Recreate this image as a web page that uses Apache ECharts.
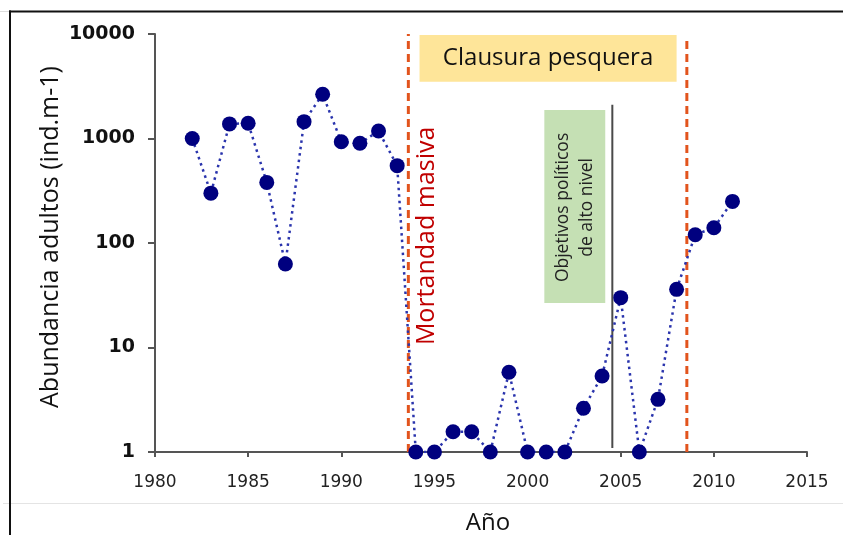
<!DOCTYPE html>
<html><head><meta charset="utf-8">
<script src="https://cdn.jsdelivr.net/npm/echarts@6/dist/echarts.min.js"></script>
<style>html,body{margin:0;padding:0;background:#fff}#c{width:843px;height:535px}</style>
</head><body><div id="c"></div>
<script>
// ---- data ----
const years = [1982,1983,1984,1985,1986,1987,1988,1989,1990,1991,1992,1993,1994,1995,1996,1997,1998,1999,2000,2001,2002,2003,2004,2005,2006,2007,2008,2009,2010,2011];
const abundance = [1000,300,1380,1400,380,63,1450,2650,930,900,1180,550,1,1,1.56,1.56,1,5.8,1,1,1,2.62,5.34,30,1,3.19,36,120,140,250];
const xTicks = [1980,1985,1990,1995,2000,2005,2010,2015];
const yTicks = [1,10,100,1000,10000];

// annotation positions in data units (year, abundance)
const mortalityYear = 1993.6;
const closureEndYear = 2008.55;
const closureLineTop = [10000, 8950];
const policyYear = 2004.55;
const policyLineRange = [1.09, 2100];
const closureBoxX = [1994.2, 2008.0];
const closureBoxY = [3500, 9800];
const policyBoxX = [2000.9, 2004.17];
const policyBoxY = [26.7, 1875];
const mortalityLabelPos = [1994.62, 117];

const xTitle = 'Año';
const yTitle = 'Abundancia adultos (ind.m-1)';
const closureText = 'Clausura pesquera';
const policyText = 'Objetivos políticos\nde alto nivel';
const mortalityText = 'Mortandad masiva';

const chart = echarts.init(document.getElementById('c'), null, {renderer: 'canvas'});
const axisColor = '#555';
const redDash = {color: '#e2541d', width: 3, type: [8, 5]};

const option = {
  animation: false,
  backgroundColor: '#fff',
  grid: {left: 155, right: 36, top: 34, bottom: 83},
  xAxis: {
    type: 'value', min: xTicks[0], max: xTicks[xTicks.length - 1], interval: 5,
    splitLine: {show: false},
    axisLine: {onZero: false, lineStyle: {color: axisColor, width: 2}},
    axisTick: {length: 5, lineStyle: {color: axisColor, width: 2}},
    axisLabel: {fontFamily: 'DejaVu Sans', fontSize: 17, color: '#222', margin: 22, formatter: v => String(v)}
  },
  yAxis: {
    type: 'log', logBase: 10, min: yTicks[0], max: yTicks[yTicks.length - 1],
    splitLine: {show: false},
    minorTick: {show: false},
    axisLine: {lineStyle: {color: axisColor, width: 2}},
    axisTick: {length: 7, lineStyle: {color: axisColor, width: 2}},
    axisLabel: {fontFamily: 'DejaVu Sans', fontWeight: 'bold', fontSize: 19, color: '#111', margin: 20, formatter: v => String(Math.round(v))}
  },
  series: [
    {type: 'line', data: [[mortalityYear, 1], [mortalityYear, closureLineTop[0]]], showSymbol: false, symbol: 'none', lineStyle: redDash, z: 2, silent: true},
    {type: 'line', data: [[closureEndYear, 1], [closureEndYear, closureLineTop[1]]], showSymbol: false, symbol: 'none', lineStyle: redDash, z: 2, silent: true},
    {type: 'line', data: [[policyYear, policyLineRange[0]], [policyYear, policyLineRange[1]]], showSymbol: false, symbol: 'none', lineStyle: {color: '#4a4a4a', width: 2}, z: 2, silent: true},
    {
      type: 'line', z: 3,
      data: years.map((y, i) => [y, abundance[i]]),
      symbol: 'circle', symbolSize: 15, showSymbol: true,
      itemStyle: {color: '#00007f', borderWidth: 0},
      lineStyle: {color: '#2a34ad', width: 2.5, type: [2.5, 4]}
    }
  ]
};
chart.setOption(option);

const px = (x, y) => chart.convertToPixel({xAxisIndex: 0, yAxisIndex: 0}, [x, y]);
const c1 = px(closureBoxX[0], closureBoxY[1]);
const c2 = px(closureBoxX[1], closureBoxY[0]);
const p1 = px(policyBoxX[0], policyBoxY[1]);
const p2 = px(policyBoxX[1], policyBoxY[0]);
const m = px(mortalityLabelPos[0], mortalityLabelPos[1]);

chart.setOption({
  graphic: [
    // outer frame
    {type: 'rect', z: 20, shape: {x: 0, y: 11, width: 9, height: 1}, style: {fill: '#dddddd'}},
    {type: 'rect', z: 20, shape: {x: 9, y: 10.5, width: 834, height: 2}, style: {fill: '#111'}},
    {type: 'rect', z: 20, shape: {x: 9, y: 10.5, width: 2, height: 525}, style: {fill: '#111'}},
    {type: 'rect', z: 20, shape: {x: 11, y: 503, width: 832, height: 1}, style: {fill: '#e4e4e4'}},
    {type: 'rect', z: 20, shape: {x: 3, y: 503, width: 6, height: 1}, style: {fill: '#e4e4e4'}},
    // closure box
    {type: 'rect', z: 10, shape: {x: c1[0], y: c1[1], width: c2[0] - c1[0], height: c2[1] - c1[1]}, style: {fill: '#fee599'}},
    {type: 'text', z: 11, x: (c1[0] + c2[0]) / 2, y: (c1[1] + c2[1]) / 2,
     style: {text: closureText, fontFamily: 'Open Sans', fontSize: 24, fill: '#111', align: 'center', verticalAlign: 'middle'}},
    // policy box
    {type: 'rect', z: 10, shape: {x: p1[0], y: p1[1], width: p2[0] - p1[0], height: p2[1] - p1[1]}, style: {fill: '#c5e0b4'}},
    {type: 'text', z: 11, x: (p1[0] + p2[0]) / 2 + 0.5, y: (p1[1] + p2[1]) / 2 + 1, rotation: Math.PI / 2,
     style: {text: policyText, fontFamily: 'Open Sans', fontSize: 17.5, lineHeight: 24, fill: '#222', align: 'center', verticalAlign: 'middle'}},
    // mortality label
    {type: 'text', z: 11, x: m[0], y: m[1], rotation: Math.PI / 2,
     style: {text: mortalityText, fontFamily: 'Open Sans', fontSize: 25, fill: '#c00000', align: 'center', verticalAlign: 'middle'}},
    // axis titles
    {type: 'text', z: 11, x: 51, y: 237, rotation: Math.PI / 2,
     style: {text: yTitle, fontFamily: 'Open Sans', fontSize: 25, fill: '#111', align: 'center', verticalAlign: 'middle'}},
    {type: 'text', z: 11, x: 488, y: 523,
     style: {text: xTitle, fontFamily: 'Open Sans', fontSize: 24, fill: '#111', align: 'center', verticalAlign: 'middle'}}
  ]
});
</script>
</body></html>
